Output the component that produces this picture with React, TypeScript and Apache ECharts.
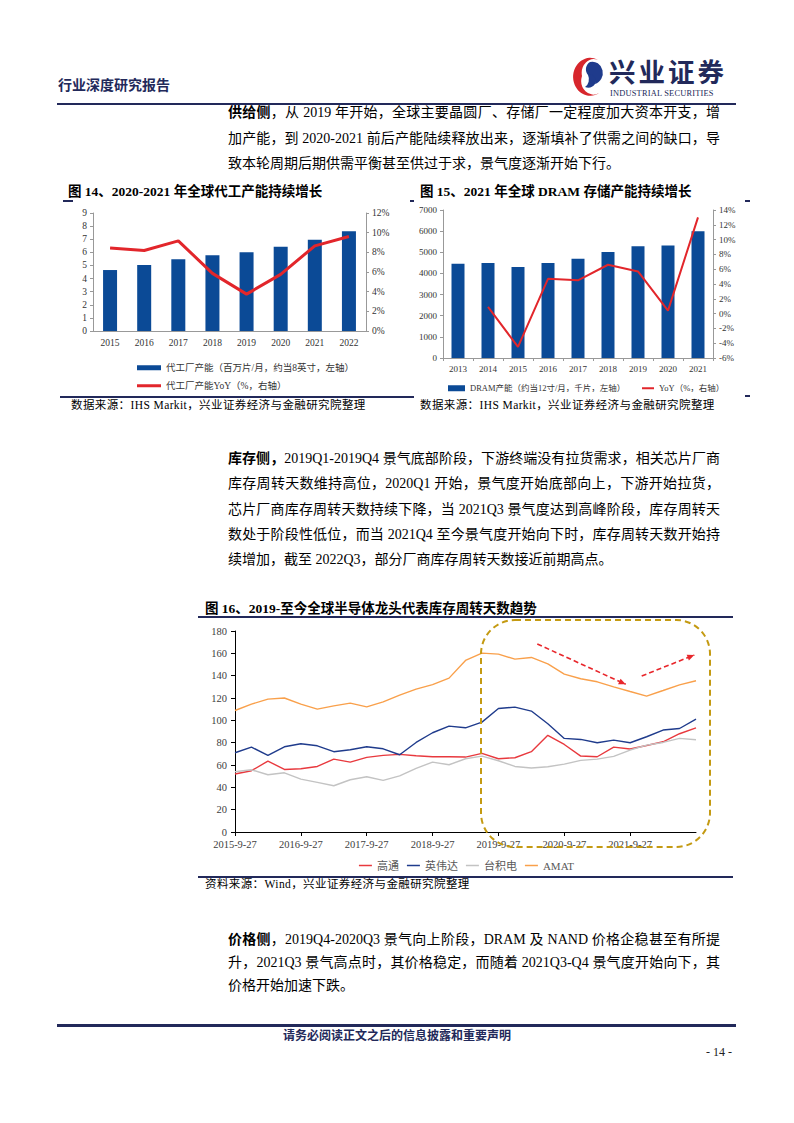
import React, { useEffect, useRef } from "react";
import * as echarts from "echarts";

const SERIF = '"Liberation Serif", "Times New Roman", "Noto Sans CJK SC", serif';
const SANS = '"Noto Sans CJK SC", "Noto Sans", sans-serif';
const NAVY = "#22295A";

// ---------- Figure 14 data ----------
const c14Years = ["2015", "2016", "2017", "2018", "2019", "2020", "2021", "2022"];
const c14Capacity = [4.65, 5.04, 5.47, 5.78, 6.01, 6.42, 6.96, 7.6];
const c14Yoy = [8.45, 8.18, 9.17, 5.86, 3.75, 5.76, 8.66, 9.61];
const c14BarName = "代工厂产能（百万片/月，约当8英寸，左轴）";
const c14LineName = "代工厂产能YoY（%，右轴）";

// ---------- Figure 15 data ----------
const c15Years = ["2013", "2014", "2015", "2016", "2017", "2018", "2019", "2020", "2021"];
const c15Capacity = [4460, 4490, 4300, 4490, 4690, 5010, 5290, 5320, 6000];
const c15Yoy = [null, 0.9, -4.5, 4.7, 4.5, 6.6, 5.7, 0.4, 13.0];
const c15BarName = "DRAM产能（约当12寸/月，千片，左轴）";
const c15LineName = "YoY（%，右轴）";

// ---------- Figure 16 data ----------
const c16Dates = [
  "2015-9-27", "2015-12-27", "2016-3-27", "2016-6-27",
  "2016-9-27", "2016-12-27", "2017-3-27", "2017-6-27",
  "2017-9-27", "2017-12-27", "2018-3-27", "2018-6-27",
  "2018-9-27", "2018-12-27", "2019-3-27", "2019-6-27",
  "2019-9-27", "2019-12-27", "2020-3-27", "2020-6-27",
  "2020-9-27", "2020-12-27", "2021-3-27", "2021-6-27",
  "2021-9-27", "2021-12-27", "2022-3-27", "2022-6-27",
  "2022-9-27",
];
const c16Qualcomm = [51.9, 54.9, 63.5, 56, 56.6, 58.7, 65.3, 62.6, 66.8, 68.6, 69.5, 68.3, 67.4, 67.4, 67.1, 70.4, 65.6, 66.5, 71.9, 86.6, 78.4, 68, 67.4, 76, 74.3, 77.5, 80.8, 88, 93.3];
const c16Nvidia = [71, 76, 68.6, 76.3, 79, 77.2, 71.9, 73.6, 76.3, 74.5, 69.2, 80.2, 88.9, 94.8, 93.3, 98.4, 110.6, 111.8, 108.3, 97, 83.8, 82.9, 79.9, 82.3, 79.9, 85.3, 91.3, 92.7, 101.1];
const c16Tsmc = [54, 55.7, 51.3, 53, 47.4, 44.4, 41.4, 46.8, 49.5, 46.2, 50.2, 57, 62.6, 60.2, 65.6, 68, 63.8, 58.7, 57.3, 58.4, 60.8, 64.1, 65.3, 67.7, 73.4, 77.8, 80.2, 83.8, 82.6];
const c16Amat = [108.8, 114.5, 119, 120, 114.5, 110, 113, 115.4, 112, 116.5, 122.6, 128, 132, 137.8, 153.6, 160.2, 159.3, 154.8, 156.3, 150.6, 141.4, 137.2, 134.5, 130, 125.8, 121.7, 126.7, 131.8, 135.4];
const c16Names = ["高通", "英伟达", "台积电", "AMAT"];

function Chart({ option, style }: { option: any; style: React.CSSProperties }) {
  const ref = useRef<HTMLDivElement>(null);
  useEffect(() => {
    if (!ref.current) return;
    const chart = echarts.init(ref.current, undefined, { renderer: "svg" });
    chart.setOption(option);
    return () => chart.dispose();
  }, [option]);
  return <div ref={ref} style={{ position: "absolute", ...style }} />;
}

const axisLbl = (size: number) => ({ fontSize: size, color: "#333", fontFamily: SERIF });

const legendText14 = { fontSize: 9.5, color: "#333", fontFamily: SERIF };

const option14 = {
  animation: false,
  grid: { left: 33, right: 34, top: 8, bottom: 61 },
  legend: [
    {
      left: 72, top: 153, itemWidth: 24, itemHeight: 5,
      textStyle: legendText14,
      data: [{ name: c14BarName, icon: "rect" }],
    },
    {
      left: 72, top: 171, itemWidth: 24, itemHeight: 3,
      textStyle: legendText14,
      data: [{ name: c14LineName, icon: "rect" }],
    },
  ],
  xAxis: {
    type: "category",
    data: c14Years,
    axisLine: { lineStyle: { color: "#999" } },
    axisTick: { show: false },
    axisLabel: { ...axisLbl(9.5), margin: 7 },
  },
  yAxis: [
    {
      type: "value", min: 0, max: 9, interval: 1,
      axisLine: { show: true, lineStyle: { color: "#999" } },
      axisTick: { show: true, length: 3 },
      splitLine: { show: false },
      axisLabel: { ...axisLbl(9.5), margin: 6 },
    },
    {
      type: "value", min: 0, max: 12, interval: 2, position: "right",
      axisLine: { show: true, lineStyle: { color: "#999" } },
      axisTick: { show: true, length: 3 },
      splitLine: { show: false },
      axisLabel: { ...axisLbl(9.5), margin: 6, formatter: "{value}%" },
    },
  ],
  series: [
    { name: c14BarName, type: "bar", data: c14Capacity, barWidth: 14, itemStyle: { color: "#0B4A96" } },
    {
      name: c14LineName, type: "line", yAxisIndex: 1, data: c14Yoy, symbol: "none",
      lineStyle: { color: "#E2262B", width: 3 }, itemStyle: { color: "#E2262B" },
    },
  ],
};

const legendText15 = { fontSize: 8.5, color: "#333", fontFamily: SERIF };

const option15 = {
  animation: false,
  grid: { left: 33, right: 37, top: 5, bottom: 34 },
  legend: [
    {
      left: 33, top: 174, itemWidth: 17, itemHeight: 6, itemGap: 4,
      textStyle: legendText15,
      data: [{ name: c15BarName, icon: "rect" }],
    },
    {
      left: 227, top: 174, itemWidth: 12, itemHeight: 2, itemGap: 4,
      textStyle: legendText15,
      data: [{ name: c15LineName, icon: "rect" }],
    },
  ],
  xAxis: {
    type: "category",
    data: c15Years,
    axisLine: { lineStyle: { color: "#999" } },
    axisTick: { show: true, length: 3 },
    axisLabel: { ...axisLbl(9), margin: 6 },
  },
  yAxis: [
    {
      type: "value", min: 0, max: 7000, interval: 1000,
      axisLine: { show: true, lineStyle: { color: "#999" } },
      axisTick: { show: true, length: 3 },
      splitLine: { show: false },
      axisLabel: { ...axisLbl(9), margin: 6, formatter: (v: number) => String(v) },
    },
    {
      type: "value", min: -6, max: 14, interval: 2, position: "right",
      axisLine: { show: true, lineStyle: { color: "#999" } },
      axisTick: { show: true, length: 3 },
      splitLine: { show: false },
      axisLabel: { ...axisLbl(9), margin: 6, formatter: "{value}%" },
    },
  ],
  series: [
    { name: c15BarName, type: "bar", data: c15Capacity, barWidth: 13, itemStyle: { color: "#0B4A96" } },
    {
      name: c15LineName, type: "line", yAxisIndex: 1, data: c15Yoy, symbol: "none",
      lineStyle: { color: "#E2262B", width: 2 }, itemStyle: { color: "#E2262B" },
    },
  ],
};

function arrowHead(x1: number, y1: number, x2: number, y2: number, len = 7, half = 3) {
  const dx = x2 - x1, dy = y2 - y1;
  const L = Math.sqrt(dx * dx + dy * dy);
  const ux = dx / L, uy = dy / L;
  const bx = x2 - ux * len, by = y2 - uy * len;
  const px = -uy * half, py = ux * half;
  return [[x2, y2], [bx + px, by + py], [bx - px, by - py]];
}

const ARROW = "#E8262B";
const arrows = [
  [339.3, 26, 427.7, 66.3],
  [443.7, 58, 496.3, 37],
];

const c16Colors = ["#E8393E", "#1F3B8C", "#C3C3C3", "#F9A04B"];
const c16Data = [c16Qualcomm, c16Nvidia, c16Tsmc, c16Amat];
const showEvery4 = (idx: number) => idx % 4 === 0 && idx < c16Dates.length - 1;

const option16 = {
  animation: false,
  grid: { left: 37, right: 39, top: 13, bottom: 46 },
  legend: {
    left: "center", top: 237, itemWidth: 13, itemHeight: 1.5, itemGap: 8,
    textStyle: { fontSize: 11, color: "#595959", fontFamily: SERIF },
    data: c16Names.map((n) => ({ name: n, icon: "rect" })),
  },
  xAxis: {
    type: "category", data: c16Dates, boundaryGap: false,
    axisLine: { lineStyle: { color: "#000" } },
    axisTick: { show: true, length: 4, interval: showEvery4, lineStyle: { color: "#000" } },
    axisLabel: { ...axisLbl(10.5), color: "#404040", margin: 7, interval: showEvery4 },
  },
  yAxis: {
    type: "value", min: 0, max: 180, interval: 20,
    axisLine: { show: true, lineStyle: { color: "#000" } },
    axisTick: { show: true, length: 4, lineStyle: { color: "#000" } },
    splitLine: { show: false },
    axisLabel: { ...axisLbl(10.5), color: "#404040", margin: 8 },
  },
  series: c16Names.map((n, i) => ({
    name: n, type: "line", data: c16Data[i], symbol: "none",
    lineStyle: { color: c16Colors[i], width: 1.4 }, itemStyle: { color: c16Colors[i] },
  })),
  graphic: [
    {
      type: "rect", z: 100,
      shape: { x: 283, y: 2, width: 229, height: 227, r: 34 },
      style: { fill: "none", stroke: "#C49A12", lineWidth: 2, lineDash: [6, 4] },
    },
    ...arrows.flatMap(([x1, y1, x2, y2]) => [
      {
        type: "line", z: 100,
        shape: { x1, y1, x2, y2 },
        style: { stroke: ARROW, lineWidth: 1.6, lineDash: [5, 3] },
      },
      {
        type: "polygon", z: 100,
        shape: { points: arrowHead(x1, y1, x2, y2) },
        style: { fill: ARROW },
      },
    ]),
  ],
};

function TextLine({ top, left = 228, width = 492, justify = true, children, size = 14 }: any) {
  return (
    <div
      style={{
        position: "absolute", top, left, width, height: 20, lineHeight: "20px",
        fontSize: size, fontFamily: SERIF, color: "#000",
        textAlign: justify ? "justify" : "left",
        textAlignLast: justify ? "justify" : "left",
      } as React.CSSProperties}
    >
      {children}
    </div>
  );
}

const Rule = ({ x, y, w, h = 1.5, color = NAVY }: any) => (
  <div style={{ position: "absolute", left: x, top: y, width: w, height: h, background: color }} />
);

function Abs({ x, y, size, bold, children, family = SERIF, color = "#000", extra = {} }: any) {
  return (
    <div
      style={{
        position: "absolute", left: x, top: y, fontSize: size, fontFamily: family,
        fontWeight: bold ? 700 : 400, color, whiteSpace: "nowrap", lineHeight: 1, ...extra,
      }}
    >
      {children}
    </div>
  );
}

export default function App() {
  return (
    <div style={{ position: "absolute", left: 0, top: 0, width: 794, height: 1123, background: "#fff", overflow: "hidden" }}>
      {/* Header */}
      <Abs x={58} y={77} size={14} bold color={NAVY} family={SANS}>行业深度研究报告</Abs>
      <svg style={{ position: "absolute", left: 568, top: 54 }} width={40} height={44} viewBox="0 0 40 44">
        <path d="M 30 6 A 17 19 0 1 0 31 39 A 12 14 0 0 1 14 22 A 12 14 0 0 1 30 6 Z" fill="#D7262C" />
        <path d="M 22 8 A 10 11 0 0 1 27 30 A 7 7 0 0 0 20 21 A 7 8 0 0 1 22 8 Z" fill="#1F3B8C" />
        <path d="M 20 21 A 6 6 0 0 1 27 30 A 9 10 0 0 1 17 33 A 8 9 0 0 0 20 21 Z" fill="#1F3B8C" />
      </svg>
      <Abs x={609} y={58} size={26.5} bold color={NAVY} family={SANS} extra={{ letterSpacing: 3, height: 30, overflow: "visible" }}>兴业证券</Abs>
      <Abs x={610} y={90} size={8.4} color={NAVY} extra={{ letterSpacing: 0.2 }}>INDUSTRIAL SECURITIES</Abs>
      <Rule x={57} y={103} w={679} h={1.5} />

      {/* Paragraph 1 */}
      <TextLine top={103}><b>供给侧</b>，从 2019 年开始，全球主要晶圆厂、存储厂一定程度加大资本开支，增</TextLine>
      <TextLine top={129}>加产能，到 2020-2021 前后产能陆续释放出来，逐渐填补了供需之间的缺口，导</TextLine>
      <TextLine top={154} justify={false}>致本轮周期后期供需平衡甚至供过于求，景气度逐渐开始下行。</TextLine>

      {/* Figure 14 / 15 titles */}
      <Abs x={68} y={185} size={13.5} bold family={SERIF}>图 14、2020-2021 年全球代工产能持续增长</Abs>
      <Abs x={420} y={185} size={13.5} bold family={SERIF}>图 15、2021 年全球 DRAM 存储产能持续增长</Abs>
      <Rule x={63} y={200} w={10} h={1.5} />
      <Rule x={410} y={200} w={4} h={1.5} />
      <Rule x={745} y={200} w={5} h={1.5} />

      <Chart option={option14} style={{ left: 60, top: 205, width: 340, height: 187 }} />
      <Chart option={option15} style={{ left: 410, top: 205, width: 340, height: 187 }} />

      <Rule x={60} y={396} w={354} h={1.5} />
      <Rule x={745} y={395} w={5} h={1.5} />
      <Abs x={71} y={400} size={11.5} extra={{ letterSpacing: 0.4 }}>数据来源：IHS Markit，兴业证券经济与金融研究院整理</Abs>
      <Abs x={420} y={400} size={11.5} extra={{ letterSpacing: 0.4 }}>数据来源：IHS Markit，兴业证券经济与金融研究院整理</Abs>

      {/* Paragraph 2 */}
      <TextLine top={449}><b>库存侧，</b>2019Q1-2019Q4 景气底部阶段，下游终端没有拉货需求，相关芯片厂商</TextLine>
      <TextLine top={474}>库存周转天数维持高位，2020Q1 开始，景气度开始底部向上，下游开始拉货，</TextLine>
      <TextLine top={500}>芯片厂商库存周转天数持续下降，当 2021Q3 景气度达到高峰阶段，库存周转天</TextLine>
      <TextLine top={525}>数处于阶段性低位，而当 2021Q4 至今景气度开始向下时，库存周转天数开始持</TextLine>
      <TextLine top={550} justify={false}>续增加，截至 2022Q3，部分厂商库存周转天数接近前期高点。</TextLine>

      {/* Figure 16 */}
      <Abs x={205} y={602} size={13.5} bold>图 16、2019-至今全球半导体龙头代表库存周转天数趋势</Abs>
      <Rule x={198} y={616} w={535} h={2} />
      <Chart option={option16} style={{ left: 198, top: 618, width: 537, height: 260 }} />
      <Rule x={198} y={876} w={535} h={1.5} />
      <Abs x={205} y={879} size={11.5} extra={{ letterSpacing: 0.4 }}>资料来源：Wind，兴业证券经济与金融研究院整理</Abs>

      {/* Paragraph 3 */}
      <TextLine top={930}><b>价格侧</b>，2019Q4-2020Q3 景气向上阶段，DRAM 及 NAND 价格企稳甚至有所提</TextLine>
      <TextLine top={953}>升，2021Q3 景气高点时，其价格稳定，而随着 2021Q3-Q4 景气度开始向下，其</TextLine>
      <TextLine top={976} justify={false}>价格开始加速下跌。</TextLine>

      {/* Footer */}
      <Rule x={57} y={1024} w={679} h={2.5} />
      <div style={{ position: "absolute", left: 0, width: 794, top: 1028, textAlign: "center", fontSize: 12, fontWeight: 700, fontFamily: SANS, color: NAVY, lineHeight: "14px" }}>
        请务必阅读正文之后的信息披露和重要声明
      </div>
      <Abs x={706} y={1046} size={12} color="#222">- 14 -</Abs>
    </div>
  );
}
